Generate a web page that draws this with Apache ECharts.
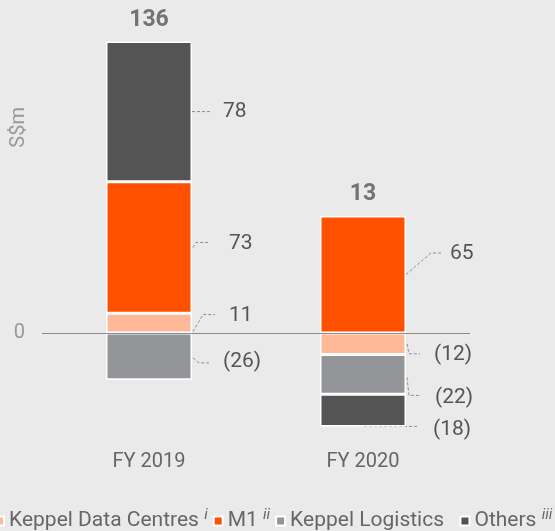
<!DOCTYPE html>
<html>
<head>
<meta charset="utf-8">
<script src="https://cdn.jsdelivr.net/npm/echarts@6/dist/echarts.min.js"></script>
<style>
  html, body { margin: 0; padding: 0; background: #e9eae9; }
  #chart { width: 555px; height: 531px; }
</style>
</head>
<body>
<div id="chart"></div>
<script>
// data
const years = ['FY 2019', 'FY 2020'];
const keppelDataCentres = [11, -12];
const m1 = [73, 65];
const keppelLogistics = [-26, -22];
const others = [78, -18];
const superscripts = ['i', 'ii', '', 'iii'];

const names = ['Keppel Data Centres', 'M1', 'Keppel Logistics', 'Others'];
const colors = ['#ffb898', '#ff5000', '#939598', '#545454'];
const values = [keppelDataCentres, m1, keppelLogistics, others];
const barWidth = 86;

// leader line shapes, relative to the bar's right edge / segment middle
const leaders = [
  [{ line: [[1, 8.5], [11, -8.5], [23, -8.5]], text: [37, -7.5] },
   { line: [[1, 0], [3, 10], [14, 10]], text: [28, 11] }],
  [{ line: [[1, 0], [4, -5], [16, -5]], text: [37, -4] },
   { line: [[0, 0], [25, -21.5], [36, -21.5]], text: [44, -20.5] }],
  [{ line: [[1, 1.5], [7, 6.5], [17, 6.5]], text: [31, 5.5] },
   { line: [[1, 3], [3, 21], [15, 21]], text: [29, 23] }],
  [{ line: [[0, 0], [19, 0]], text: [31, 0.5] },
   { line: [[-42, 16], [12, 16]], text: [27, 19] }]
];

const fmt = v => v < 0 ? '(' + (-v) + ')' : String(v);

const totals = years.map((y, i) => values.reduce((s, arr) => s + arr[i], 0));
const posTop = years.map((y, i) => values.reduce((s, arr) => s + Math.max(arr[i], 0), 0));

// same-sign stacking to find each segment's span
const segments = [];
years.forEach((y, i) => {
  let pos = 0, neg = 0;
  values.forEach((arr, k) => {
    const v = arr[i];
    let base;
    if (v >= 0) { base = pos; pos += v; } else { base = neg; neg += v; }
    segments.push([i, base, base + v, v, k]);
  });
});

const chart = echarts.init(document.getElementById('chart'));

const seriesList = names.map((name, k) => ({
  name: name,
  type: 'bar',
  stack: 'total',
  barWidth: barWidth,
  data: values[k],
  itemStyle: { color: colors[k], borderColor: '#ffffff', borderWidth: 1.5 },
  markLine: k === 0 ? {
    silent: true,
    symbol: 'none',
    label: { show: false },
    lineStyle: { color: '#8a8a8a', width: 1, type: 'solid' },
    data: [{ yAxis: 0 }]
  } : undefined
}));

seriesList.push({
  name: 'labels',
  type: 'custom',
  silent: true,
  data: segments,
  encode: { x: 0, y: [1, 2] },
  renderItem: function (params, api) {
    const cat = api.value(0);
    const base = api.value(1);
    const top = api.value(2);
    const v = api.value(3);
    const k = api.value(4);
    const mid = api.coord([cat, (base + top) / 2]);
    const xR = mid[0] + barWidth / 2;
    const yM = mid[1];
    const L = leaders[k][cat];
    return {
      type: 'group',
      children: [{
        type: 'polyline',
        shape: { points: L.line.map(p => [xR + p[0], yM + p[1]]) },
        style: { stroke: '#8c8c8c', lineWidth: 1, lineDash: [3, 2], fill: null }
      }, {
        type: 'text',
        x: xR + L.text[0],
        y: yM + L.text[1],
        style: {
          text: fmt(v),
          fill: '#555',
          fontSize: 21,
          fontFamily: 'Roboto',
          align: 'left',
          verticalAlign: 'middle'
        }
      }]
    };
  }
});

seriesList.push({
  name: 'total',
  type: 'scatter',
  symbolSize: 0,
  data: posTop,
  label: {
    show: true,
    position: 'top',
    distance: 10,
    color: '#555',
    fontSize: 23,
    fontWeight: 'bold',
    fontFamily: 'Roboto',
    formatter: p => String(totals[p.dataIndex])
  },
  silent: true
});

const option = {
  backgroundColor: '#e9eae9',
  animation: false,
  grid: { left: 42, right: 85, top: 27, bottom: 90 },
  legend: {
    data: names,
    left: -11,
    top: 503,
    width: 620,
    icon: 'rect',
    itemWidth: 9,
    itemHeight: 9,
    itemGap: 5,
    formatter: function (name) {
      const sup = superscripts[names.indexOf(name)];
      return sup ? name + ' {s|' + sup + '}' : name + '  ';
    },
    textStyle: {
      color: '#666',
      fontSize: 21,
      fontFamily: 'Roboto',
      lineHeight: 26,
      rich: {
        s: { fontSize: 15, fontStyle: 'italic', color: '#666', verticalAlign: 'top', lineHeight: 12, padding: [0, 0, 6, 0] }
      }
    }
  },
  graphic: [{
    type: 'text',
    left: 9,
    top: 107,
    rotation: Math.PI / 2,
    style: { text: 'S$m', fill: '#9a9a9a', fontSize: 20, fontFamily: 'Roboto' }
  }],
  xAxis: {
    type: 'category',
    data: years,
    axisLine: { show: false },
    axisTick: { show: false },
    axisLabel: { color: '#666', fontSize: 20, fontFamily: 'Roboto', margin: 11 }
  },
  yAxis: {
    type: 'value',
    min: -60,
    max: 170,
    interval: 10,
    axisLine: { show: false },
    axisTick: { show: false },
    splitLine: { show: false },
    axisLabel: {
      color: '#999',
      fontSize: 20,
      fontFamily: 'Roboto',
      margin: 17,
      formatter: v => v === 0 ? '0' : ''
    }
  },
  series: seriesList
};

chart.setOption(option);
</script>
</body>
</html>
